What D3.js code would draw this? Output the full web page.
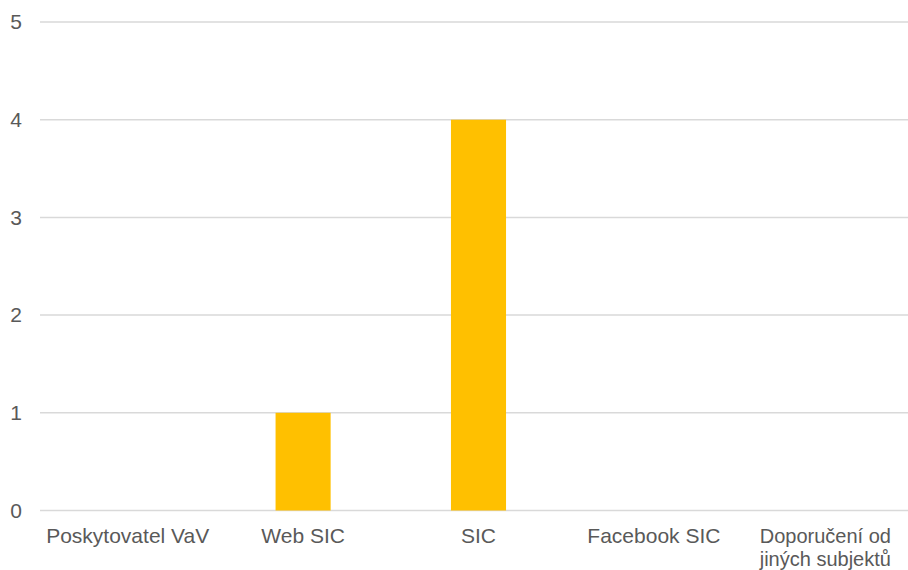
<!DOCTYPE html>
<html>
<head>
<meta charset="utf-8">
<script src="https://cdn.jsdelivr.net/npm/d3@7"></script>
<style>
  body { margin: 0; background: #fff; }
  text { font-family: "Liberation Sans", Arial, sans-serif; fill: #595959; }
</style>
</head>
<body>
<svg id="chart" width="908" height="570"></svg>
<script>
const categories = ['Poskytovatel VaV', 'Web SIC', 'SIC', 'Facebook SIC', 'Doporučení od jiných subjektů']
const labelLines = [['Poskytovatel VaV'], ['Web SIC'], ['SIC'], ['Facebook SIC'], ['Doporučení od', 'jiných subjektů']]
const values = [0, 1, 4, 0, 0]
const yTicks = [0, 1, 2, 3, 4, 5]

const svg = d3.select('#chart')
const x = d3.scaleBand().domain(categories).range([40, 917]).paddingInner(0.686).paddingOuter(0.343)
const y = d3.scaleLinear().domain([0, 5]).range([510.5, 22])

// gridlines
svg.append('g').selectAll('line')
  .data(yTicks)
  .join('line')
  .attr('x1', 40).attr('x2', 908)
  .attr('y1', d => y(d)).attr('y2', d => y(d))
  .attr('stroke', '#d9d9d9')
  .attr('stroke-width', 1.5)

// y labels
svg.append('g').selectAll('text')
  .data(yTicks)
  .join('text')
  .attr('x', 22).attr('y', d => y(d))
  .attr('dy', '0.35em')
  .attr('text-anchor', 'end')
  .style('font-size', '21px')
  .text(d => d)

// bars
svg.append('g').selectAll('rect')
  .data(values.map((v, i) => ({ cat: categories[i], v })))
  .join('rect')
  .attr('x', d => x(d.cat))
  .attr('width', x.bandwidth())
  .attr('y', d => y(d.v))
  .attr('height', d => y(0) - y(d.v))
  .attr('fill', '#ffc000')

// x labels (last one wraps onto two lines)
const xl = svg.append('g').selectAll('text')
  .data(categories.map((c, i) => ({ c, lines: labelLines[i] })))
  .join('text')
  .attr('x', d => x(d.c) + x.bandwidth() / 2)
  .attr('y', 543)
  .attr('text-anchor', 'middle')
  .style('font-size', d => d.lines.length > 1 ? '20px' : '21px')
xl.selectAll('tspan')
  .data(d => d.lines.map((l, j) => ({ l, j, cx: x(d.c) + x.bandwidth() / 2 - (d.lines.length > 1 ? 4 : 0) })))
  .join('tspan')
  .attr('x', d => d.cx)
  .attr('dy', d => d.j === 0 ? 0 : 23)
  .text(d => d.l)
</script>
</body>
</html>
